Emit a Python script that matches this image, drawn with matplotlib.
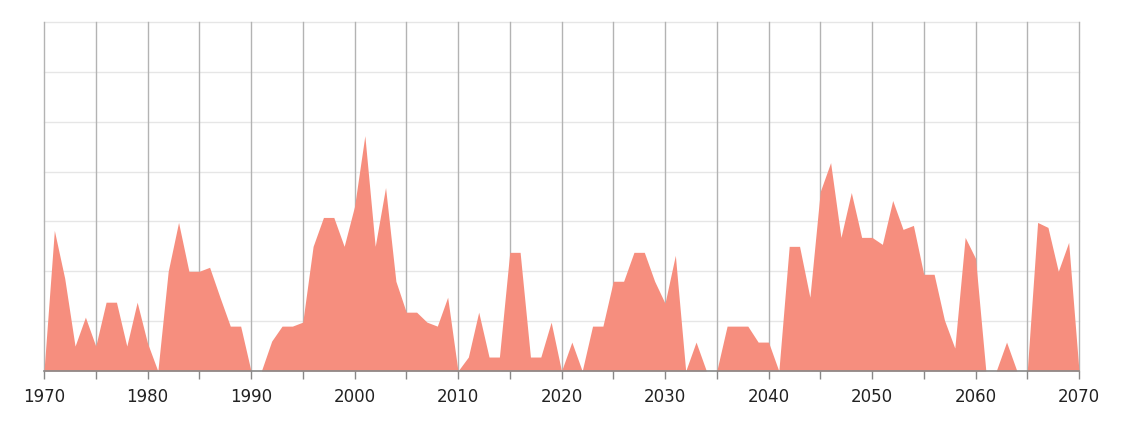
import matplotlib
matplotlib.use("Agg")
import matplotlib.pyplot as plt
import numpy as np

# yearly values, 1970..2070
years = list(range(1970, 2071))
values = [
    0, 14.1, 9.3, 2.5, 5.4, 2.5, 6.9, 6.9, 2.5, 6.9,        # 1970s
    2.8, 0, 10.0, 14.9, 10.0, 10.0, 10.4, 7.4, 4.5, 4.5,     # 1980s
    0, 0, 3.0, 4.5, 4.5, 4.9, 12.5, 15.4, 15.4, 12.5,        # 1990s
    16.5, 23.6, 12.5, 18.4, 9.0, 5.9, 5.9, 4.9, 4.5, 7.4,    # 2000s
    0, 1.4, 5.9, 1.4, 1.4, 11.9, 11.9, 1.4, 1.4, 4.9,        # 2010s
    0, 2.9, 0, 4.5, 4.5, 9.0, 9.0, 11.9, 11.9, 9.0,          # 2020s
    6.8, 11.6, 0, 2.9, 0, 0, 4.5, 4.5, 4.5, 2.9,             # 2030s
    2.9, 0, 12.5, 12.5, 7.4, 18.0, 20.9, 13.4, 17.9, 13.4,   # 2040s
    13.4, 12.7, 17.1, 14.2, 14.6, 9.7, 9.7, 5.1, 2.3, 13.4,  # 2050s
    11.3, 0, 0, 2.9, 0, 0, 14.9, 14.4, 10.0, 12.9,           # 2060s
    0,                                                       # 2070
]
xticks_major = list(range(1970, 2071, 10))
xticks_minor = list(range(1970, 2071, 5))
yticks = list(range(0, 36, 5))

fig = plt.figure(figsize=(11.23, 4.23), dpi=100)
ax = fig.add_axes([44/1123, (423-371)/423, (1079-44)/1123, (371-22)/423])

# area sits on top of the grid
ax.fill_between(years, values, 0, color="#F68E7E", lw=0, zorder=3)

ax.set_xlim(1970, 2070)
ax.set_ylim(0, 35)

# grid
for y in yticks[1:]:
    ax.axhline(y, color="#E6E6E6", lw=1, zorder=0, clip_on=False)
for x in xticks_minor:
    ax.axvline(x, color="#B3B3B3", lw=1, zorder=1, clip_on=False)

for s in ["top", "right", "left"]:
    ax.spines[s].set_visible(False)
ax.spines["bottom"].set_color("#888888")
ax.spines["bottom"].set_linewidth(1.2)
ax.spines["bottom"].set_zorder(4)

ax.set_yticks([])
ax.set_xticks(xticks_major)
ax.set_xticks(xticks_minor, minor=True)
ax.tick_params(axis="x", which="both", length=6, color="#888888", width=1)
ax.tick_params(axis="x", which="major", labelsize=12, pad=6, labelcolor="#222222")

fig.savefig("out.png", dpi=100)
